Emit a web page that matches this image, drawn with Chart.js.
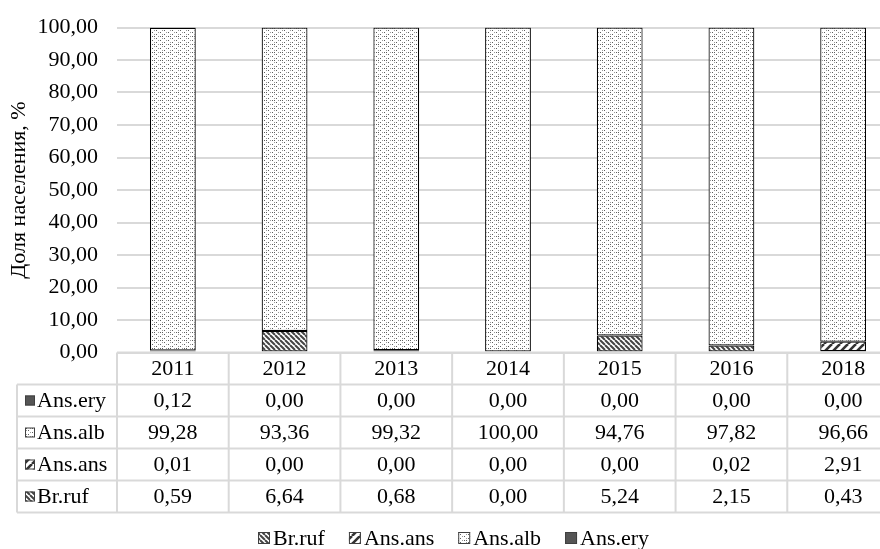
<!DOCTYPE html>
<html>
<head>
<meta charset="utf-8">
<script src="https://cdn.jsdelivr.net/npm/chart.js@4/dist/chart.umd.min.js"></script>
<style>
html,body{margin:0;padding:0;background:#fff;overflow:hidden;}
#wrap{width:880px;height:549px;overflow:hidden;position:relative;}
#c{position:absolute;left:0;top:0;}
</style>
</head>
<body>
<div id="wrap"><canvas id="c" width="900" height="549"></canvas></div>
<script>
const years = ['2011','2012','2013','2014','2015','2016','2018'];
const brRuf  = [0.59, 6.64, 0.68, 0.00, 5.24, 2.15, 0.43];
const ansAns = [0.01, 0.00, 0.00, 0.00, 0.00, 0.02, 2.91];
const ansAlb = [99.28, 93.36, 99.32, 100.00, 94.76, 97.82, 96.66];
const ansEry = [0.12, 0.00, 0.00, 0.00, 0.00, 0.00, 0.00];
const yTicks = [0,10,20,30,40,50,60,70,80,90,100];

const FONT = "'Liberation Serif', 'Times New Roman', serif";
const FS = 22;

function makePattern(size, drawFn){
  const c = document.createElement('canvas');
  c.width = size; c.height = size;
  const g = c.getContext('2d');
  g.fillStyle = '#fff'; g.fillRect(0,0,size,size);
  drawFn(g, size);
  return document.getElementById('c').getContext('2d').createPattern(c,'repeat');
}
const patDots = makePattern(8,(g)=>{
  g.fillStyle='#5e5e5e';
  [[0,0],[4,2],[0,4],[4,6],[2,4]].forEach(([x,y])=>g.fillRect(x,y,1,1));
  g.fillStyle='#9a9a9a';
  [[6,0],[2,2],[6,4],[2,6]].forEach(([x,y])=>g.fillRect(x,y,1,1));
});
const patDown = makePattern(5,(g,s)=>{
  g.strokeStyle='#444'; g.lineWidth=2;
  g.beginPath();
  for(let o=-s;o<=s;o+=s){ g.moveTo(o,0); g.lineTo(o+s,s); }
  g.stroke();
});
const patUp = makePattern(8,(g,s)=>{
  g.strokeStyle='#333'; g.lineWidth=2.6;
  g.beginPath();
  for(let o=-s;o<=2*s;o+=s){ g.moveTo(o,s); g.lineTo(o+s,0); }
  g.stroke();
});
const solidEry = '#555555';

const fmt = v => v.toFixed(2).replace('.', ',');

const rows = [
  {label:'Ans.ery', data:ansEry, fill:solidEry},
  {label:'Ans.alb', data:ansAlb, fill:patDots},
  {label:'Ans.ans', data:ansAns, fill:patUp},
  {label:'Br.ruf',  data:brRuf,  fill:patDown}
];

function keyBox(ctx, x, y, s, fill){
  ctx.fillStyle = fill;
  ctx.fillRect(x, y, s, s);
  ctx.strokeStyle='#404040'; ctx.lineWidth=1;
  ctx.strokeRect(x+0.5, y+0.5, s-1, s-1);
}

const tablePlugin = {
  id:'dataTable',
  afterDraw(chart){
    const ctx = chart.ctx;
    const xs = chart.scales.x;
    const ca = chart.chartArea;
    const top = ca.bottom;
    const rowH = 32;
    const left = 17;
    const n = years.length;
    const bounds = [ca.left];
    for(let i=1;i<n;i++) bounds.push((xs.getPixelForValue(i-1)+xs.getPixelForValue(i))/2);
    bounds.push(ca.right);
    ctx.save();
    ctx.strokeStyle='#d9d9d9';
    ctx.lineWidth=2;
    ctx.beginPath();
    ctx.moveTo(ca.left, top); ctx.lineTo(ca.right, top);
    for(let r=1;r<=5;r++){ ctx.moveTo(left, top+r*rowH); ctx.lineTo(ca.right, top+r*rowH); }
    bounds.forEach(b=>{ ctx.moveTo(b, top); ctx.lineTo(b, top+5*rowH); });
    ctx.moveTo(left, top+rowH); ctx.lineTo(left, top+5*rowH);
    ctx.stroke();
    ctx.font = FS + 'px ' + FONT;
    ctx.textBaseline='middle';
    rows.forEach((row, r)=>{
      const cy = top + (r+1)*rowH + rowH/2;
      keyBox(ctx, 25, cy-5, 10, row.fill);
      ctx.fillStyle='#000';
      ctx.textAlign='left';
      ctx.fillText(row.label, 37, cy+1);
      ctx.textAlign='center';
      row.data.forEach((v,i)=>{
        ctx.fillText(fmt(v), xs.getPixelForValue(i), cy+1);
      });
    });
    // legend
    let x = 258;
    const ly = 538;
    chart.data.datasets.forEach(ds=>{
      keyBox(ctx, x, ly-6, 12, ds.backgroundColor);
      ctx.fillStyle='#000';
      ctx.textAlign='left';
      ctx.fillText(ds.label, x+15, ly+1);
      x += 15 + ctx.measureText(ds.label).width + 24;
    });
    ctx.restore();
  }
};

const yTitlePlugin = {
  id:'yTitle',
  afterDraw(chart){
    const ctx = chart.ctx, ca = chart.chartArea;
    ctx.save();
    ctx.translate(19, (ca.top+ca.bottom)/2);
    ctx.rotate(-Math.PI/2);
    ctx.font = FS + 'px ' + FONT;
    ctx.fillStyle='#000';
    ctx.textAlign='center'; ctx.textBaseline='middle';
    ctx.fillText('Доля населения, %', 0, 0);
    ctx.restore();
  }
};

const datasets = [
  {label:'Br.ruf', data:brRuf, backgroundColor:patDown},
  {label:'Ans.ans', data:ansAns, backgroundColor:patUp},
  {label:'Ans.alb', data:ansAlb, backgroundColor:patDots},
  {label:'Ans.ery', data:ansEry, backgroundColor:solidEry}
].map(d=>Object.assign(d,{borderColor:'#000', borderWidth:1.2, borderSkipped:false, categoryPercentage:1, barPercentage:0.41}));

new Chart(document.getElementById('c'), {
  type:'bar',
  data:{labels:years, datasets},
  options:{
    responsive:false,
    animation:false,
    devicePixelRatio:1,
    layout:{padding:{top:27.5, right:1, left:0, bottom:36.5}},
    plugins:{
      legend:{display:false},
      tooltip:{enabled:false}
    },
    scales:{
      x:{
        stacked:true,
        grid:{display:false, drawTicks:false},
        border:{display:false},
        ticks:{font:{family:FONT, size:FS}, color:'#000', padding:4},
        afterFit(axis){ axis.height = 160; }
      },
      y:{
        stacked:true,
        min:0, max:100,
        afterBuildTicks(axis){ axis.ticks = yTicks.map(v=>({value:v})); },
        grid:{color:'#d9d9d9', lineWidth:2, drawTicks:false},
        border:{display:false},
        ticks:{font:{family:FONT, size:FS}, color:'#000', padding:19, callback:v=>fmt(v)},
        afterFit(axis){ axis.width = 117; axis.paddingTop = 0; axis.paddingBottom = 0; }
      }
    }
  },
  plugins:[tablePlugin, yTitlePlugin]
});
</script>
</body>
</html>
